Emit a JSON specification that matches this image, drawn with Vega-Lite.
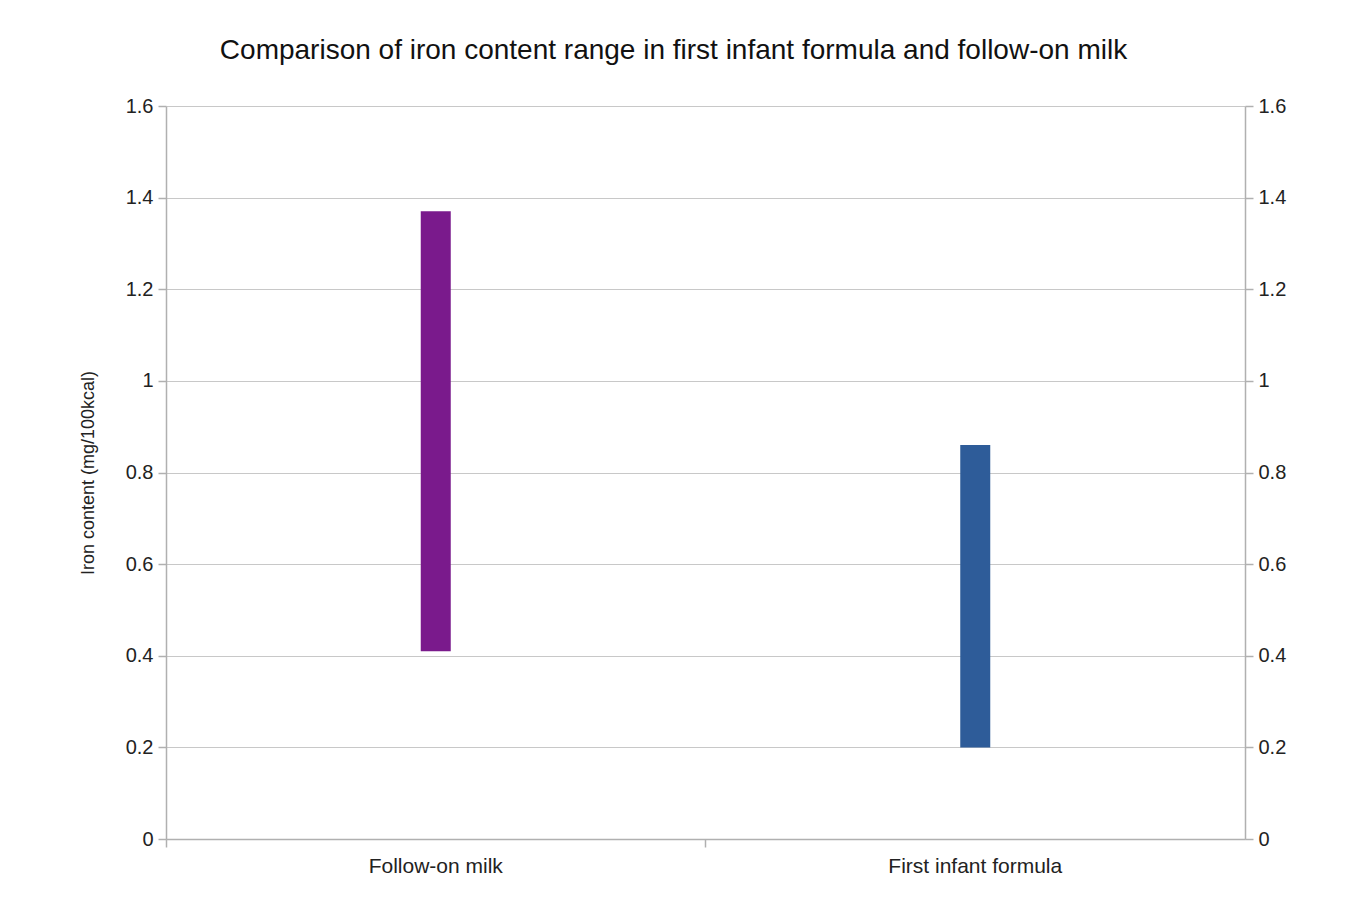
{
  "$schema": "https://vega.github.io/schema/vega-lite/v6.json",
  "width": 1079,
  "height": 733,
  "autosize": {"type": "none"},
  "padding": {"left": 166, "top": 106, "right": 123, "bottom": 76},
  "background": "white",
  "title": {
    "text": "Comparison of iron content range in first infant formula and follow-on milk",
    "font": "Liberation Sans",
    "fontSize": 28,
    "fontWeight": "normal",
    "color": "#111111",
    "anchor": "middle",
    "dx": -32,
    "offset": 31
  },
  "data": {
    "values": [
      {"product": "Follow-on milk", "low": 0.41, "high": 1.37},
      {"product": "First infant formula", "low": 0.2, "high": 0.86}
    ]
  },
  "config": {
    "view": {"stroke": null},
    "axis": {
      "labelFont": "Liberation Sans",
      "titleFont": "Liberation Sans",
      "labelColor": "#222222",
      "titleColor": "#222222",
      "domainColor": "#b0b0b0",
      "tickColor": "#b0b0b0",
      "gridColor": "#c8c8c8",
      "domainWidth": 1.5,
      "tickWidth": 1.5
    }
  },
  "layer": [
    {
      "mark": {"type": "bar", "width": 30},
      "encoding": {
        "x": {
          "field": "product",
          "type": "nominal",
          "sort": ["Follow-on milk", "First infant formula"],
          "scale": {"paddingInner": 0, "paddingOuter": 0},
          "axis": {
            "orient": "bottom",
            "title": null,
            "labelAngle": 0,
            "ticks": false,
            "labelFontSize": 21,
            "labelPadding": 16,
            "grid": false
          }
        },
        "y": {
          "field": "low",
          "type": "quantitative",
          "scale": {"domain": [0, 1.6], "nice": false},
          "axis": {
            "orient": "left",
            "title": "Iron content (mg/100kcal)",
            "titleFontSize": 18,
            "titleFontWeight": "normal",
            "titlePadding": 28,
            "values": [0, 0.2, 0.4, 0.6, 0.8, 1, 1.2, 1.4, 1.6],
            "format": "~g",
            "labelFontSize": 20,
            "tickSize": 8,
            "labelPadding": 5,
            "grid": true
          }
        },
        "y2": {"field": "high"},
        "color": {
          "field": "product",
          "type": "nominal",
          "scale": {"domain": ["Follow-on milk", "First infant formula"], "range": ["#7a1a8c", "#2e5c99"]},
          "legend": null
        }
      }
    },
    {
      "mark": {"type": "bar", "width": 30, "opacity": 0},
      "encoding": {
        "x": {
          "field": "product",
          "type": "nominal",
          "sort": ["Follow-on milk", "First infant formula"],
          "scale": {"paddingInner": 0, "paddingOuter": 0},
          "axis": {
            "orient": "bottom",
            "title": null,
            "labels": false,
            "domain": false,
            "bandPosition": 0,
            "tickSize": 8,
            "grid": false
          }
        },
        "y": {
          "field": "low",
          "type": "quantitative",
          "scale": {"domain": [0, 1.6], "nice": false},
          "axis": {
            "orient": "right",
            "title": null,
            "values": [0, 0.2, 0.4, 0.6, 0.8, 1, 1.2, 1.4, 1.6],
            "format": "~g",
            "labelFontSize": 20,
            "tickSize": 8,
            "labelPadding": 5,
            "grid": false
          }
        },
        "y2": {"field": "high"}
      }
    }
  ],
  "resolve": {"axis": {"y": "independent", "x": "independent"}}
}
